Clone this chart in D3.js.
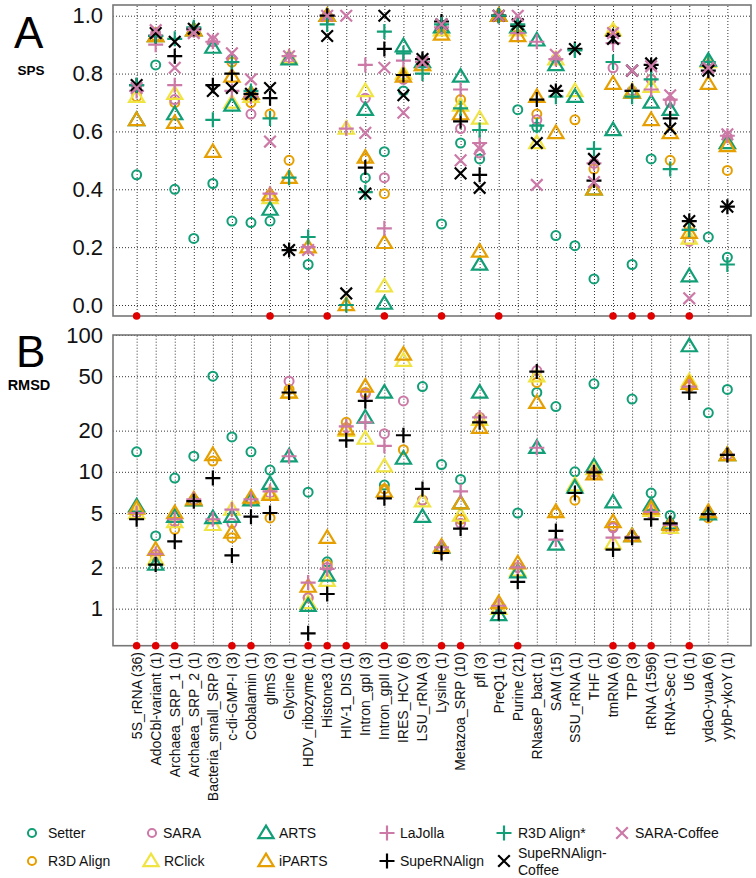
<!DOCTYPE html>
<html><head><meta charset="utf-8">
<script src="https://cdn.jsdelivr.net/npm/d3@7"></script>
<style>body{margin:0;background:#fff} text{font-family:"Liberation Sans",Arial,sans-serif}</style>
</head><body><svg id="c" width="756" height="878"></svg>
<script>
const categories = ["5S_rRNA (36)","AdoCbl-variant (1)","Archaea_SRP_1 (1)","Archaea_SRP_2 (1)","Bacteria_small_SRP (3)","c-di-GMP-I (3)","Cobalamin (1)","glmS (3)","Glycine (1)","HDV_ribozyme (1)","Histone3 (1)","HIV-1_DIS (1)","Intron_gpI (3)","Intron_gpII (1)","IRES_HCV (6)","LSU_rRNA (3)","Lysine (1)","Metazoa_SRP (10)","pfl (3)","PreQ1 (1)","Purine (21)","RNaseP_bact (1)","SAM (15)","SSU_rRNA (1)","THF (1)","tmRNA (6)","TPP (3)","tRNA (1596)","tRNA-Sec (1)","U6 (1)","ydaO-yuaA (6)","yybP-ykoY (1)"];
const methods = ["Setter","R3D Align","SARA","RClick","ARTS","iPARTS","LaJolla","SupeRNAlign","R3D Align*","SupeRNAlign-Coffee","SARA-Coffee"];
const spsTicks = [0.0,0.2,0.4,0.6,0.8,1.0];
const rmsdTicks = [1,2,5,10,20,50,100];
const spsMarked = [0,7,10,13,16,19,25,26,27,29];
const rmsdMarked = [0,1,2,5,6,9,10,11,13,16,17,20,25,26,27,29];

// SPS values (panel A)
const spsSetter = [0.45,0.83,0.40,0.23,0.42,0.29,0.285,0.29,null,0.14,null,null,0.44,0.53,0.74,null,0.28,0.56,0.505,null,0.675,0.615,0.24,0.205,0.09,null,0.14,0.505,null,null,0.235,0.165];
const spsR3DAlign = [0.72,0.93,0.70,0.95,null,0.84,0.70,0.66,0.50,null,1.0,null,0.505,0.385,0.79,0.84,0.96,0.71,null,1.0,0.95,0.66,null,0.64,0.47,0.95,0.74,0.78,0.50,0.27,0.83,0.465];
const spsSARA = [0.75,0.94,0.71,0.95,0.91,0.85,0.66,0.38,0.855,null,1.0,null,0.715,0.44,0.78,0.84,0.96,0.61,0.525,1.0,0.96,0.64,0.85,null,0.49,0.82,0.74,0.78,0.70,0.22,0.83,0.58];
const spsRClick = [0.72,0.93,0.73,0.95,null,0.70,0.72,0.37,0.855,null,1.0,0.61,0.74,0.065,0.80,0.83,0.95,0.69,0.645,1.0,0.95,0.56,0.85,0.74,0.40,0.95,0.74,0.755,null,0.23,0.84,0.56];
const spsARTS = [0.64,0.93,0.66,0.95,0.89,0.69,0.73,0.33,0.85,null,1.0,null,0.675,0.005,0.895,0.84,0.96,0.79,0.14,1.0,0.96,0.915,0.83,0.72,0.40,0.605,0.735,0.70,0.675,0.10,0.845,0.56];
const spsIPARTS = [0.64,0.93,0.63,0.95,0.53,0.79,0.73,0.38,0.44,0.20,1.0,0.0,0.51,0.215,0.79,0.83,0.935,0.66,0.185,1.0,0.93,0.72,0.595,null,0.40,0.765,0.735,0.64,0.595,0.25,0.765,0.55];
const spsLaJolla = [0.74,0.90,0.76,0.95,0.91,0.74,0.72,0.385,0.86,0.20,1.0,0.61,0.83,0.265,0.845,0.84,0.96,0.745,0.56,1.0,0.94,0.91,0.85,null,0.49,0.905,0.74,0.745,0.71,0.26,0.83,0.585];
const spsSupeRNAlign = [0.76,0.93,0.86,0.955,0.76,0.80,0.73,0.715,0.19,null,1.0,null,0.475,0.885,0.795,0.85,0.98,0.635,0.45,1.0,0.965,0.71,0.74,0.885,0.43,0.93,0.74,0.83,0.645,0.29,0.81,0.34];
const spsR3DAlignStar = [0.76,0.93,0.92,0.96,0.64,0.84,0.74,0.645,0.44,0.235,0.97,0.0,0.39,0.945,0.87,0.80,0.97,0.68,0.605,1.0,0.97,0.62,0.72,0.88,0.54,0.84,0.72,0.78,0.47,0.26,0.84,0.14];
const spsSupeRNAlignCoffee = [0.76,0.94,0.91,0.955,0.74,0.75,0.73,0.75,0.19,null,0.93,0.04,0.385,1.0,0.725,0.85,0.97,0.455,0.405,1.0,0.97,0.56,0.74,0.885,0.505,0.92,0.81,0.835,0.61,0.29,0.81,0.34];
const spsSARACoffee = [0.75,0.95,0.82,0.94,0.92,0.87,0.78,0.565,0.86,0.19,1.0,1.0,0.595,0.82,0.665,0.84,0.97,0.50,0.54,1.0,1.0,0.415,0.865,null,0.425,0.94,0.81,0.825,0.725,0.023,0.82,0.59];

// RMSD values (panel B)
const rmsdSetter = [14,3.4,9.0,13,50,18,14,10.3,null,7.1,2.2,null,null,8.0,null,42,11.3,8.8,null,null,5.0,38,30,10,44,null,34,7.0,4.8,null,27,40];
const rmsdR3DAlign = [5.0,2.4,3.8,6.2,12,3.3,6.2,4.6,40,1.2,2.1,23,38,7.5,14.5,6.2,2.7,4.5,25,1.05,2.0,45,5.0,6.2,9.5,4.0,3.35,5.0,4.0,42,4.6,13.2];
const rmsdSARA = [5.0,2.5,4.3,6.2,4.5,4.2,6.3,7.0,46,1.2,2.0,21,37,19,33,6.2,2.8,4.2,25,1.05,2.0,55,null,null,10,3.9,3.35,5.0,3.8,43,4.9,13.3];
const rmsdRClick = [5.0,2.3,4.3,6.2,4.1,5.3,6.3,7.0,38,1.1,1.6,20,17.5,11,65,6.1,2.8,4.8,24,1.0,1.9,50,null,8.0,10.5,3.0,3.4,5.2,3.9,46,5.0,13.3];
const rmsdARTS = [5.6,2.1,4.7,6.2,4.6,4.7,6.2,8.2,13,1.05,1.75,null,25,38,12.5,4.7,2.8,5.9,38,0.9,1.85,15,2.95,7.7,11,6.0,3.4,5.7,4.2,83,4.9,13.3];
const rmsdIPARTS = [5.4,2.7,5.0,6.3,13.3,3.6,6.5,6.8,38,1.45,3.3,20.5,42,7.2,72,null,2.85,5.9,21,1.1,2.15,32,5.1,null,9.6,4.3,3.4,5.4,4.1,44,5.1,13.3];
const rmsdLaJolla = [5.0,2.5,4.5,6.3,4.5,5.3,6.3,7.2,13,1.55,1.95,21.5,23,15.5,null,null,2.8,7.2,25,1.05,2.0,15,3.2,null,10,3.3,3.35,5.1,4.1,42,4.9,13.3];
const rmsdSupeRNAlign = [4.5,2.1,3.1,6.1,9.0,2.45,4.7,5.0,38,0.66,1.28,17,33,6.4,18.5,7.5,2.55,3.85,23,0.93,1.57,54,3.7,7.0,9.9,2.7,3.3,4.5,4.2,38,4.9,13.3];

const spsSeries = {"Setter":spsSetter,"R3D Align":spsR3DAlign,"SARA":spsSARA,"RClick":spsRClick,"ARTS":spsARTS,"iPARTS":spsIPARTS,"LaJolla":spsLaJolla,"SupeRNAlign":spsSupeRNAlign,"R3D Align*":spsR3DAlignStar,"SupeRNAlign-Coffee":spsSupeRNAlignCoffee,"SARA-Coffee":spsSARACoffee};
const rmsdSeries = {"Setter":rmsdSetter,"R3D Align":rmsdR3DAlign,"SARA":rmsdSARA,"RClick":rmsdRClick,"ARTS":rmsdARTS,"iPARTS":rmsdIPARTS,"LaJolla":rmsdLaJolla,"SupeRNAlign":rmsdSupeRNAlign};

const GREEN="#129e76", PINK="#cc79a7", ORANGE="#e69f00", YELLOW="#f0e442", BLACK="#000";
const style = {
  "Setter":{shape:"circle",color:GREEN},
  "R3D Align":{shape:"circle",color:ORANGE},
  "SARA":{shape:"circle",color:PINK},
  "RClick":{shape:"tri",color:YELLOW},
  "ARTS":{shape:"tri",color:GREEN},
  "iPARTS":{shape:"tri",color:ORANGE},
  "LaJolla":{shape:"plus",color:PINK},
  "SupeRNAlign":{shape:"plus",color:BLACK},
  "R3D Align*":{shape:"plus",color:GREEN},
  "SupeRNAlign-Coffee":{shape:"cross",color:BLACK},
  "SARA-Coffee":{shape:"cross",color:PINK}
};

const svg = d3.select("#c");
const L=113, R=751;
const A={top:5,bottom:316}, B={top:335,bottom:645.7};
const x = d3.scalePoint().domain(categories).range([L,R]).padding(1.24);
const yA = d3.scaleLinear().domain([-0.038,1.037]).range([A.bottom,A.top]);
const yB = d3.scaleLog().domain([0.536,100]).range([B.bottom,B.top]);

function marker(g, shape, color, cx, cy, k){
  k = k||1;
  if(shape==="circle"){
    g.append("circle").attr("cx",cx).attr("cy",cy).attr("r",4.5*k)
     .attr("fill","none").attr("stroke",color).attr("stroke-width",2);
    return;
  }
  let d;
  if(shape==="tri") d=`M${cx},${cy-7.4*k}L${cx+7.6*k},${cy+5.2*k}L${cx-7.6*k},${cy+5.2*k}Z`;
  else if(shape==="plus") d=`M${cx-7.5*k},${cy}H${cx+7.5*k}M${cx},${cy-7.5*k}V${cy+7.5*k}`;
  else d=`M${cx-5.8*k},${cy-5.8*k}L${cx+5.8*k},${cy+5.8*k}M${cx+5.8*k},${cy-5.8*k}L${cx-5.8*k},${cy+5.8*k}`;
  g.append("path").attr("d",d).attr("fill","none").attr("stroke",color)
   .attr("stroke-width",2.2).attr("stroke-linejoin","miter");
}

function panel(p, y, ticks, fmt, series, marked){
  const g = svg.append("g");
  g.append("g").attr("transform",`translate(${L},0)`)
   .call(d3.axisLeft(y).tickValues(ticks).tickSize(-(R-L)).tickFormat(""))
   .call(s=>s.select(".domain").remove())
   .call(s=>s.selectAll("line").attr("stroke","#333").attr("stroke-dasharray","1,2"));
  g.append("g").attr("transform",`translate(0,${p.bottom})`)
   .call(d3.axisBottom(x).tickSize(-(p.bottom-p.top)).tickFormat(""))
   .call(s=>s.select(".domain").remove())
   .call(s=>s.selectAll("line").attr("stroke","#333").attr("stroke-dasharray","1,2"));
  g.append("g").attr("transform",`translate(${L},0)`)
   .call(d3.axisLeft(y).tickValues(ticks).tickSize(0).tickPadding(10).tickFormat(fmt))
   .call(s=>s.select(".domain").remove())
   .call(s=>s.selectAll("text").attr("font-size",22).attr("fill","#111")
     .attr("font-family","'Liberation Sans',Arial,sans-serif"));
  g.append("rect").attr("x",L).attr("y",p.top).attr("width",R-L).attr("height",p.bottom-p.top)
   .attr("fill","none").attr("stroke","#777").attr("stroke-width",1.6);
  const pg = g.append("g");
  methods.forEach(m=>{
    const vals = series[m]; if(!vals) return;
    const st = style[m];
    vals.forEach((v,i)=>{ if(v==null) return; marker(pg, st.shape, st.color, x(categories[i]), y(v)); });
  });
  g.append("g").selectAll("circle").data(marked).join("circle")
   .attr("cx",i=>x(categories[i])).attr("cy",p.bottom).attr("r",3.8).attr("fill","#e00000");
}

panel(A, yA, spsTicks, d3.format(".1f"), spsSeries, spsMarked);
panel(B, yB, rmsdTicks, d3.format("d"), rmsdSeries, rmsdMarked);

svg.append("text").attr("x",14).attr("y",48).attr("font-size",44).text("A");
svg.append("text").attr("x",31).attr("y",75).attr("font-size",13.5).attr("font-weight","bold").attr("text-anchor","middle").text("SPS");
svg.append("text").attr("x",16).attr("y",367).attr("font-size",44).text("B");
svg.append("text").attr("x",29).attr("y",390).attr("font-size",14.5).attr("font-weight","bold").attr("text-anchor","middle").text("RMSD");

svg.append("g").selectAll("text").data(categories).join("text")
 .attr("transform",d=>`translate(${x(d)},652) rotate(-90)`)
 .attr("text-anchor","end").attr("dy","0.35em").attr("font-size",14).attr("fill","#111").text(d=>d);

// legend
const legendItems = [
  {m:"Setter",sx:32,tx:48,y:833},{m:"SARA",sx:152,tx:163,y:833},{m:"ARTS",sx:266,tx:279,y:833},{m:"LaJolla",sx:387,tx:400,y:833},{m:"R3D Align*",sx:504,tx:518,y:833},{m:"SARA-Coffee",sx:622,tx:635,y:833},
  {m:"R3D Align",sx:32,tx:48,y:861},{m:"RClick",sx:151,tx:164,y:861},{m:"iPARTS",sx:266,tx:279,y:861},{m:"SupeRNAlign",sx:387,tx:400,y:861},{m:"SupeRNAlign-Coffee",sx:504,tx:518,y:861}
];
const lg = svg.append("g");
legendItems.forEach(it=>{
  const st = style[it.m];
  const k = st.shape==="circle" ? 0.9 : 1;
  marker(lg, st.shape, st.color, it.sx, it.y, k);
  if(it.m==="SupeRNAlign-Coffee"){
    const t = lg.append("text").attr("font-size",14).attr("fill","#111");
    t.append("tspan").attr("x",it.tx).attr("y",it.y-8).attr("dy","0.35em").text("SupeRNAlign-");
    t.append("tspan").attr("x",it.tx).attr("y",it.y+9).attr("dy","0.35em").text("Coffee");
  } else {
    lg.append("text").attr("x",it.tx).attr("y",it.y).attr("dy","0.35em").attr("font-size",14).attr("fill","#111").text(it.m);
  }
});
</script></body></html>
